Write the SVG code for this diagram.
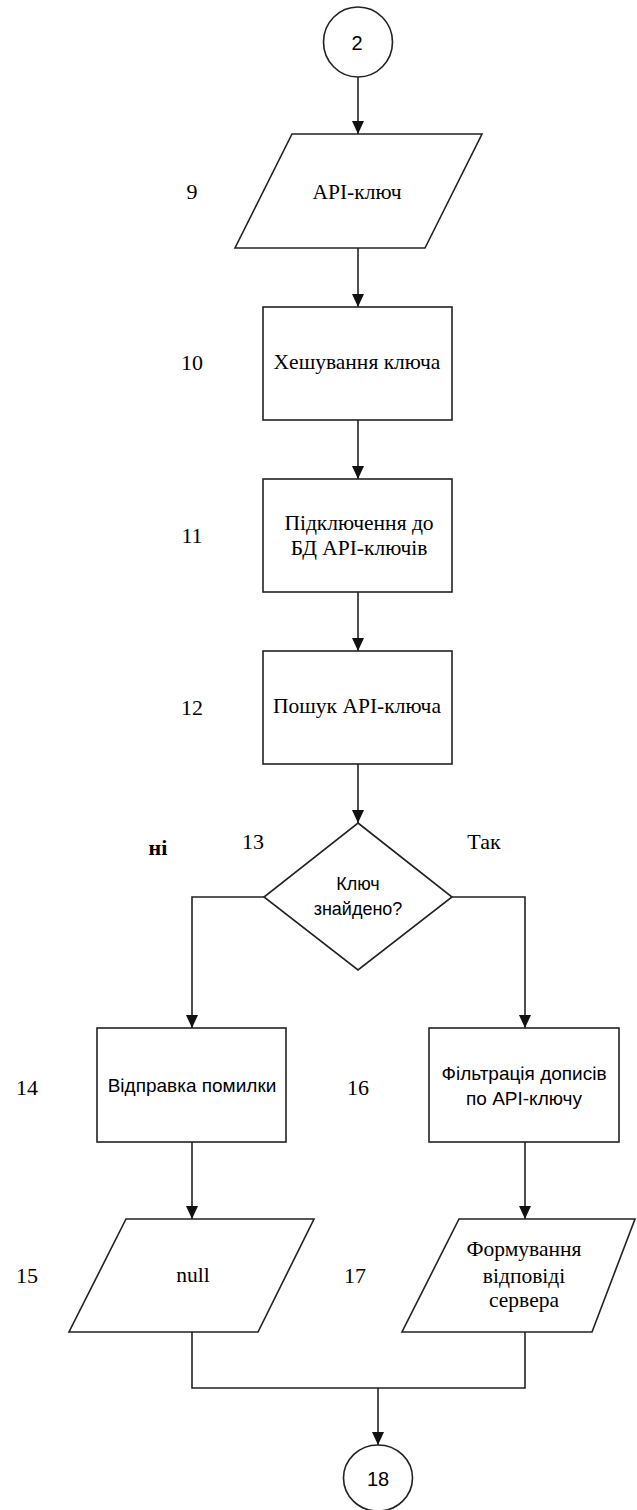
<svg xmlns="http://www.w3.org/2000/svg" width="637" height="1510" viewBox="0 0 637 1510">
<style>
.s{fill:#fff;stroke:#222;stroke-width:1.6}
.c{fill:none;stroke:#222;stroke-width:1.6}
.t{font-family:"Liberation Serif","Times New Roman",serif;font-size:21.5px;fill:#000;text-anchor:middle}
.n{font-family:"Liberation Serif","Times New Roman",serif;font-size:22px;fill:#000;text-anchor:middle}
.a{font-family:"Liberation Sans",Arial,sans-serif;font-size:19px;fill:#000;text-anchor:middle}
</style>
<defs>
<marker id="ar" viewBox="0 0 13 12" refX="13" refY="6" markerWidth="13" markerHeight="12" markerUnits="userSpaceOnUse" orient="auto">
<path d="M0,0 L13,6 L0,12 Z" fill="#111"/>
</marker>
</defs>
<rect width="637" height="1510" fill="#fff"/>
<g id="connectors">
<line class="c" x1="358" y1="77" x2="358" y2="134" marker-end="url(#ar)"/>
<line class="c" x1="358" y1="248" x2="358" y2="307" marker-end="url(#ar)"/>
<line class="c" x1="358" y1="420" x2="358" y2="479" marker-end="url(#ar)"/>
<line class="c" x1="358" y1="592" x2="358" y2="651" marker-end="url(#ar)"/>
<line class="c" x1="358" y1="764" x2="358" y2="823" marker-end="url(#ar)"/>
<polyline class="c" points="264,897 192,897 192,1028" marker-end="url(#ar)"/>
<polyline class="c" points="452,897 525,897 525,1028" marker-end="url(#ar)"/>
<line class="c" x1="192" y1="1142" x2="192" y2="1219" marker-end="url(#ar)"/>
<line class="c" x1="525" y1="1142" x2="525" y2="1219" marker-end="url(#ar)"/>
<polyline class="c" points="192,1332 192,1388 525,1388 525,1332"/>
<line class="c" x1="378" y1="1388" x2="378" y2="1445" marker-end="url(#ar)"/>
</g>
<g id="n2">
<ellipse class="s" cx="358" cy="42" rx="34.5" ry="35"/>
<text x="357" y="50" class="a" style="font-size:20px">2</text>
</g>
<g id="n9">
<polygon class="s" points="292,134 482,134 425,248 235,248"/>
<text x="357" y="199" class="t">API-ключ</text>
<text x="192" y="199" class="n">9</text>
</g>
<g id="n10">
<rect class="s" x="263" y="307" width="189" height="113"/>
<text x="357" y="369" class="t">Хешування ключа</text>
<text x="192" y="370" class="n">10</text>
</g>
<g id="n11">
<rect class="s" x="263" y="479" width="189" height="113"/>
<text x="359" y="530" class="t">Підключення до</text>
<text x="359" y="555" class="t">БД API-ключів</text>
<text x="192" y="543" class="n">11</text>
</g>
<g id="n12">
<rect class="s" x="263" y="651" width="189" height="113"/>
<text x="357" y="713" class="t">Пошук API-ключа</text>
<text x="192" y="715" class="n">12</text>
</g>
<g id="n13">
<polygon class="s" points="358,823 452,897 358,970 264,897"/>
<text x="358" y="890" class="a" style="font-size:18px">Ключ</text>
<text x="358" y="915" class="a" style="font-size:18px">знайдено?</text>
<text x="253" y="849" class="n">13</text>
<text x="158" y="855" class="n" style="font-weight:bold">ні</text>
<text x="484" y="849" class="n">Так</text>
</g>
<g id="n14">
<rect class="s" x="97" y="1028" width="189" height="114"/>
<text x="192" y="1092" class="a">Відправка помилки</text>
<text x="27" y="1095" class="n">14</text>
</g>
<g id="n16">
<rect class="s" x="429" y="1028" width="190" height="114"/>
<text x="524" y="1080" class="a">Фільтрація дописів</text>
<text x="524" y="1105" class="a">по API-ключу</text>
<text x="358" y="1095" class="n">16</text>
</g>
<g id="n15">
<polygon class="s" points="126,1219 314,1219 258,1332 69,1332"/>
<text x="193" y="1282" class="t">null</text>
<text x="27" y="1283" class="n">15</text>
</g>
<g id="n17">
<polygon class="s" points="459,1219 635,1219 592,1332 402,1332"/>
<text x="524" y="1256" class="t">Формування</text>
<text x="524" y="1283" class="t">відповіді</text>
<text x="524" y="1307" class="t">сервера</text>
<text x="355" y="1283" class="n">17</text>
</g>
<g id="n18">
<ellipse class="s" cx="378" cy="1478" rx="34.5" ry="33"/>
<text x="378" y="1486" class="a" style="font-size:20px">18</text>
</g>
</svg>
